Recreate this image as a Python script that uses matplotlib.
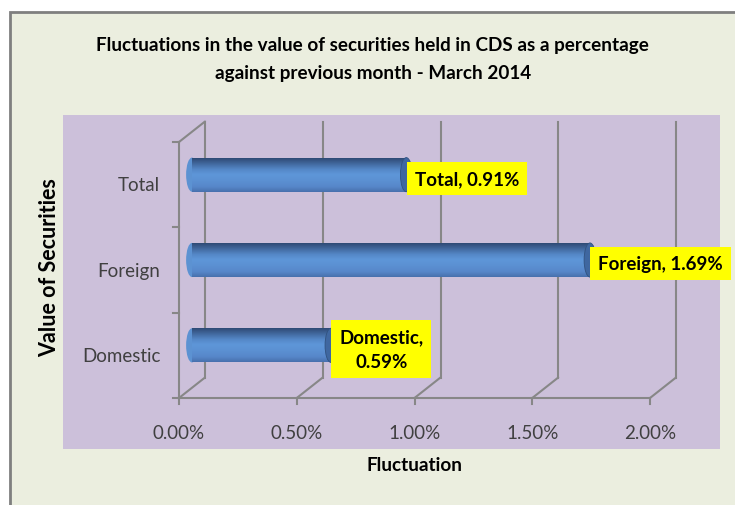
import numpy as np
import matplotlib.pyplot as plt
import matplotlib.transforms as mtransforms
from matplotlib.patches import Rectangle, Ellipse

plt.rcParams['font.family'] = ['Lato', 'DejaVu Sans']

categories = ['Domestic', 'Foreign', 'Total']
values = [0.59, 1.69, 0.91]
label_texts = ['Domestic,\n0.59%', 'Foreign, 1.69%', 'Total, 0.91%']
xticks = [0.0, 0.5, 1.0, 1.5, 2.0]
xtick_labels = ['0.00%', '0.50%', '1.00%', '1.50%', '2.00%']

W, H = 735, 506
fig = plt.figure(figsize=(W / 100, H / 100), dpi=100)
fig.patch.set_facecolor('white')

# chart area + plot area backgrounds
fig.patches.append(Rectangle((9.5 / W, -0.1), 1.1, (H - 12.5) / H + 0.1,
                             transform=fig.transFigure, facecolor='#EBEEDF',
                             edgecolor='#7F7F7F', lw=2, zorder=0))
fig.patches.append(Rectangle((63 / W, (H - 450) / H), (720 - 63) / W, (450 - 116) / H,
                             transform=fig.transFigure, facecolor='#CCC0DA',
                             edgecolor='none', zorder=1))

# front axes frame: x 0..2 -> px 179..650, y -0.5..2.5 -> px 399..143
ax = fig.add_axes([179 / W, (H - 399) / H, (650 - 179) / W, (399 - 143) / H])
ax.set_zorder(2)
ax.set_xlim(0, 2)
ax.set_ylim(-0.5, 2.5)
ax.axis('off')
ax.patch.set_visible(False)

gc = '#878787'
back = ax.transData + mtransforms.ScaledTranslation(0.26, 0.205, fig.dpi_scale_trans)
mid = ax.transData + mtransforms.ScaledTranslation(0.13, 0.10, fig.dpi_scale_trans)
y0, y1 = -0.5, 2.5

# back wall gridlines and floor diagonals
for xv in xticks:
    ax.plot([xv, xv], [y0, y1], color=gc, lw=1.5, transform=back, clip_on=False)
for xv in xticks:
    ax.annotate('', xy=(xv, y0), xycoords=back, xytext=(xv, y0), textcoords=ax.transData,
                arrowprops=dict(arrowstyle='-', color=gc, lw=1.5, shrinkA=0, shrinkB=0))
ax.annotate('', xy=(0, y1), xycoords=back, xytext=(0, y1), textcoords=ax.transData,
            arrowprops=dict(arrowstyle='-', color=gc, lw=1.5, shrinkA=0, shrinkB=0))

# front axes lines and ticks
ax.plot([0, 0], [y0, y1], color=gc, lw=1.5, clip_on=False)
ax.plot([0, 2], [y0, y0], color=gc, lw=1.5, clip_on=False)
ticky = np.arange(len(categories) + 1) - 0.5
for t in ticky:
    ax.plot([-0.027, 0], [t, t], color=gc, lw=1.5, clip_on=False)
for xv in xticks:
    ax.plot([xv, xv], [y0, y0 - 0.07], color=gc, lw=1.5, clip_on=False)

# tick labels
for xv, lab in zip(xticks, xtick_labels):
    ax.text(xv, y0 - 0.4, lab, ha='center', va='center', fontsize=13.5,
            color='#404040')
for i, c in enumerate(categories):
    ax.text(-0.08, i, c, ha='right', va='center', fontsize=13.5, color='#404040')

# cylinder bars
ypos = np.arange(len(categories))
bh = 0.4
bars = ax.barh(ypos, values, height=bh, color='#4F81BD', transform=mid,
               zorder=3, clip_on=False)
grad = np.array([0.0, 0.15, 0.35, 0.5, 0.65, 0.85, 1.0])
cols = np.array([[0.28, 0.44, 0.68], [0.34, 0.53, 0.79], [0.36, 0.57, 0.83],
                 [0.37, 0.59, 0.85], [0.33, 0.53, 0.78], [0.24, 0.38, 0.58],
                 [0.17, 0.27, 0.43]])
img = np.zeros((100, 1, 3))
for k in range(3):
    img[:, 0, k] = np.interp(np.linspace(0, 1, 100), grad, cols[:, k])
for b, v, yy in zip(bars, values, ypos):
    cap = Ellipse((0, yy), 0.05, bh, transform=mid, facecolor=cols[3] * 0.97,
                  edgecolor='none', zorder=2.5, clip_on=False)
    ax.add_patch(cap)
    im = ax.imshow(img, extent=[0, v, yy + bh / 2, yy - bh / 2], aspect='auto',
                   transform=mid, zorder=3.5, interpolation='bilinear')
    im.set_clip_path(b)
    ax.add_patch(Ellipse((v, yy), 0.05, bh, transform=mid, facecolor='#3F67A0',
                         edgecolor='#31527f', lw=0.6, zorder=3.6, clip_on=False))

ax.set_xlim(0, 2)
ax.set_ylim(-0.5, 2.5)

# data labels
for v, yy, t in zip(values, ypos, label_texts):
    ax.text(v + 0.035, yy - 0.045, t, ha='left', va='center', fontsize=13.5,
            fontweight='bold', color='black', linespacing=1.6, transform=mid,
            zorder=5, multialignment='center',
            bbox=dict(boxstyle='square,pad=0.42', facecolor='#FFFF00', edgecolor='none'))

# titles
fig.text(372 / W, 1 - 45 / H, 'Fluctuations in the value of securities held in CDS as a percentage',
         ha='center', va='center', fontsize=13.6, fontweight='bold')
fig.text(373 / W, 1 - 73 / H, 'against previous month - March 2014',
         ha='center', va='center', fontsize=13.6, fontweight='bold')
fig.text(414 / W, 1 - 466 / H, 'Fluctuation', ha='center', va='center',
         fontsize=13.6, fontweight='bold')
fig.text(50 / W, 1 - 268 / H, 'Value of Securities', ha='center', va='center',
         fontsize=15.5, fontweight='bold', rotation=90)

fig.savefig('out.png', dpi=100)
